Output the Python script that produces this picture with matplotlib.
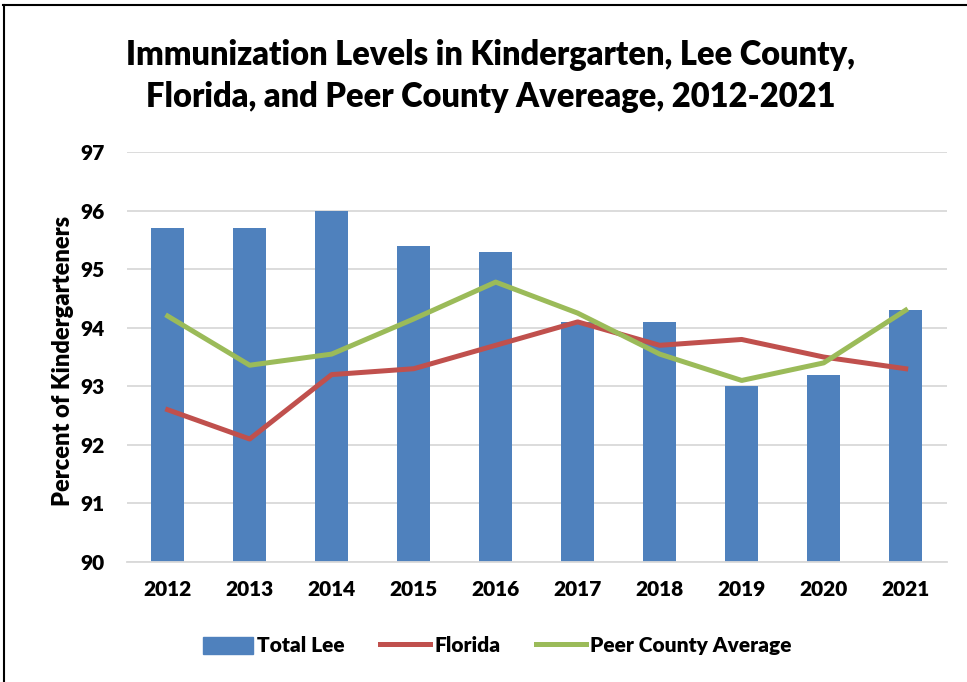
import matplotlib
matplotlib.use("Agg")
import matplotlib.pyplot as plt
from matplotlib.patches import Rectangle
from matplotlib.lines import Line2D

plt.rcParams['font.family'] = ['Lato', 'DejaVu Sans']
W = 'heavy'
plt.rcParams['font.weight'] = W

years = ['2012', '2013', '2014', '2015', '2016', '2017', '2018', '2019', '2020', '2021']
total_lee = [95.7, 95.7, 96.0, 95.4, 95.3, 94.1, 94.1, 93.0, 93.2, 94.3]
florida = [92.6, 92.1, 93.2, 93.3, 93.7, 94.1, 93.7, 93.8, 93.5, 93.3]
peer_avg = [94.2, 93.36, 93.55, 94.15, 94.78, 94.25, 93.55, 93.1, 93.4, 94.3]

fig = plt.figure(figsize=(9.67, 6.82), dpi=100)
ax = fig.add_axes([0.131, 0.176, 0.848, 0.601])

x = range(len(years))
ax.bar(x, [v - 90 for v in total_lee], bottom=90, width=0.4, color='#4F81BD',
       label='Total Lee', zorder=2)
ax.plot(x, florida, color='#C0504D', lw=3.6, label='Florida', zorder=3)
ax.plot(x, peer_avg, color='#9BBB59', lw=3.6, label='Peer County Average', zorder=4)

ax.set_ylim(90, 97)
ax.set_xlim(-0.5, 9.5)
ax.set_yticks(range(90, 98))
ax.set_xticks(list(x))
ax.set_xticklabels(years)
ax.grid(axis='y', color='#D9D9D9', lw=1.3, zorder=0)
for s in ['top', 'right', 'left']:
    ax.spines[s].set_visible(False)
ax.spines['bottom'].set_color('#D9D9D9')
ax.spines['bottom'].set_linewidth(1.3)
ax.tick_params(length=0, labelsize=15, pad=13)
for lab in ax.get_xticklabels() + ax.get_yticklabels():
    lab.set_fontweight(W)
ax.tick_params(axis='y', pad=16)

ax.set_ylabel('Percent of Kindergarteners', fontsize=17, fontweight=W)
ax.yaxis.set_label_coords(-0.064, 0.49)

fig.text(0.507, 0.889, 'Immunization Levels in Kindergarten, Lee County,\nFlorida, and Peer County Avereage, 2012-2021',
         ha='center', va='center', fontsize=23.5, fontweight=W, linespacing=1.4)

handles = [Rectangle((0, 0), 1, 1, color='#4F81BD'),
           Line2D([0], [0], color='#C0504D', lw=3.6),
           Line2D([0], [0], color='#9BBB59', lw=3.6)]
fig.legend(handles, ['Total Lee', 'Florida', 'Peer County Average'],
           loc='center', bbox_to_anchor=(0.514, 0.053), ncol=3, frameon=False,
           prop={'size': 15, 'weight': W}, handlelength=2.4, handleheight=0.9,
           handletextpad=0.2, columnspacing=1.7)

# outer frame (top and left edges visible)
fig.add_artist(Line2D([0.003, 1.0], [0.993, 0.993], color='black', lw=1.5, transform=fig.transFigure))
fig.add_artist(Line2D([0.004, 0.004], [0.0, 0.993], color='black', lw=1.5, transform=fig.transFigure))

fig.savefig('out.png', dpi=100)
